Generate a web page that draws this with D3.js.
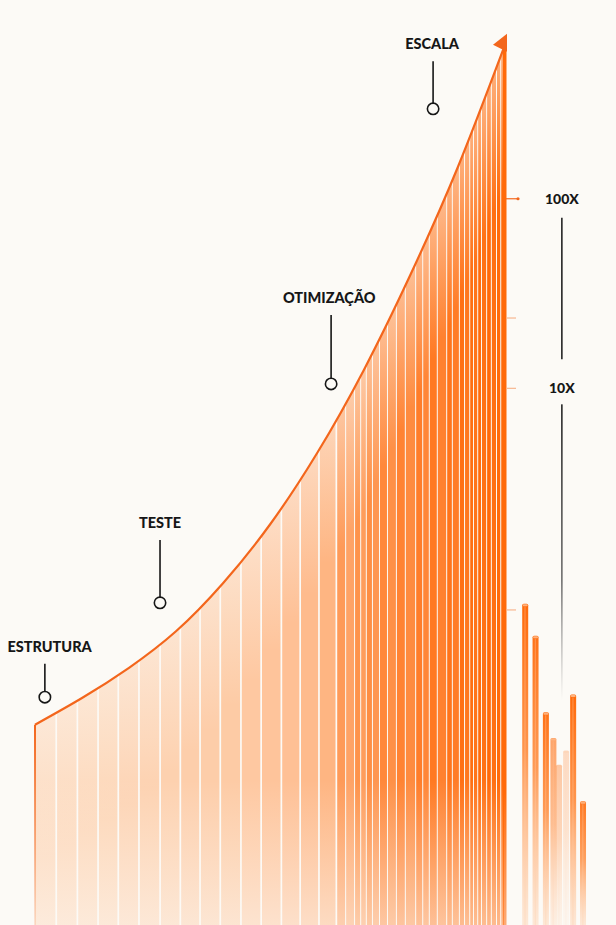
<!DOCTYPE html>
<html><head><meta charset="utf-8">
<script src="https://cdn.jsdelivr.net/npm/d3@7"></script>
<style>
html,body{margin:0;padding:0;background:#fcfaf6;}
svg{display:block;}
</style></head><body>
<svg id="c" width="616" height="925"></svg>
<script>
// ---- data ----
const curveX = [0, 10, 20, 30, 40, 50, 60, 70, 80, 90, 100];
const curveV = [22.5, 25.5, 28.9, 33.0, 38.4, 45.0, 53.0, 62.4, 73.2, 85.2, 98.9];
const stripeEdges = [0, 4.7, 9.2, 13.6, 17.9, 22.3, 26.8, 31.1, 35.3, 39.6, 44.0, 48.3, 52.6, 56.6, 60.6,
  64.3, 66.2, 68.1, 69.4, 70.6, 71.9, 73.4, 75.1, 77.0, 78.9, 81.1, 82.6, 84.0, 85.7, 87.7, 88.9,
  90.4, 91.5, 92.6, 93.4, 94.3, 95.1, 96.2, 97.2, 98.3, 99.2, 100];
const stripeTone = [0.13, 0.14, 0.15, 0.16, 0.17, 0.18, 0.19, 0.21, 0.22, 0.24, 0.26, 0.29, 0.32, 0.36, 0.41,
  0.62, 0.55, 0.68, 0.6, 0.72, 0.65, 0.76, 0.7, 0.8, 0.74, 0.85, 0.78, 0.88, 0.82, 0.92, 0.86,
  0.95, 0.9, 0.97, 0.92, 1.0, 0.94, 1.0, 0.96, 1.0, 1.0];
const stageNames = ["ESTRUTURA", "TESTE", "OTIMIZAÇÃO", "ESCALA"];
const stageX = [2.1, 26.6, 63.0, 84.7];
const stageLabelX = [3.1, 26.6, 62.6, 84.5];
const stageDotV = [25.6, 36.2, 60.8, 91.7];
const stageLabelV = [30.7, 44.6, 69.9, 98.4];
const axisTicks = [81.6, 68.2, 60.3, 35.4];
const axisLabels = ["100X", "", "10X", ""];
const labelColumnX = 112.1;
const miniBarX = [104.3, 106.5, 108.7, 110.3, 111.5, 113.0, 114.5, 116.6];
const miniBarV = [36.1, 32.5, 23.9, 21.0, 18.0, 19.6, 25.9, 13.9];
const miniBarTone = [1, 0.95, 0.95, 0.6, 0.35, 0.22, 1, 0.9];

// ---- setup ----
const BG = "#fcfaf6", ORANGE = "#ff6a0a", LINE = "#f3661c", INK = "#161616";
const FONT = "Lato, 'Noto Sans', sans-serif";
const svg = d3.select("#c");
const xs = d3.scaleLinear().domain([0, 100]).range([35, 505]);
const ys = d3.scaleLinear().domain([0, 100]).range([925, 35]);
const curveAt = d3.scaleLinear().domain(curveX).range(curveV);
const toneColor = d3.interpolateRgb("#fde9d6", ORANGE);
const pts = curveX.map((x, i) => [x, curveV[i]]);

svg.append("rect").attr("width", 616).attr("height", 925).attr("fill", BG);
const defs = svg.append("defs");

const area = d3.area().x(d => xs(d[0])).y0(ys(0)).y1(d => ys(d[1])).curve(d3.curveNatural);
defs.append("clipPath").attr("id", "clipArea").append("path").attr("d", area(pts));

const hl = defs.append("linearGradient").attr("id", "hl").attr("x1", 0).attr("x2", 0).attr("y1", 0).attr("y2", 1);
hl.append("stop").attr("offset", 0).attr("stop-color", BG).attr("stop-opacity", 0.5);
hl.append("stop").attr("offset", 1).attr("stop-color", BG).attr("stop-opacity", 0);

const fade = defs.append("linearGradient").attr("id", "fade").attr("gradientUnits", "userSpaceOnUse")
  .attr("x1", 0).attr("x2", 0).attr("y1", 780).attr("y2", 925);
fade.append("stop").attr("offset", 0).attr("stop-color", BG).attr("stop-opacity", 0);
fade.append("stop").attr("offset", 1).attr("stop-color", BG).attr("stop-opacity", 0.55);

const edgeFade = defs.append("linearGradient").attr("id", "edgeFade").attr("gradientUnits", "userSpaceOnUse")
  .attr("x1", 0).attr("x2", 0).attr("y1", ys(curveV[0])).attr("y2", 925);
edgeFade.append("stop").attr("offset", 0).attr("stop-color", LINE).attr("stop-opacity", 1);
edgeFade.append("stop").attr("offset", 1).attr("stop-color", LINE).attr("stop-opacity", 0.15);

const rightFade = defs.append("linearGradient").attr("id", "rightFade").attr("gradientUnits", "userSpaceOnUse")
  .attr("x1", 0).attr("x2", 0).attr("y1", 40).attr("y2", 925);
rightFade.append("stop").attr("offset", 0).attr("stop-color", ORANGE).attr("stop-opacity", 1);
rightFade.append("stop").attr("offset", 0.85).attr("stop-color", ORANGE).attr("stop-opacity", 1);
rightFade.append("stop").attr("offset", 1).attr("stop-color", ORANGE).attr("stop-opacity", 0.55);

// ---- stripes ----
const g = svg.append("g").attr("clip-path", "url(#clipArea)");
const stripes = stripeTone.map((t, i) => ({ a: stripeEdges[i], b: stripeEdges[i + 1], t }));
g.selectAll("rect.s").data(stripes).join("rect").attr("class", "s")
  .attr("x", d => xs(d.a))
  .attr("width", d => { const w = xs(d.b) - xs(d.a); return Math.max(0.5, w - (w > 12 ? 1.7 : 1.0)); })
  .attr("y", 30).attr("height", 900)
  .attr("fill", d => toneColor(d.t));
g.selectAll("rect.h").data(stripes).join("rect").attr("class", "h")
  .attr("x", d => xs(d.a)).attr("width", d => xs(d.b) - xs(d.a))
  .attr("y", d => ys(curveAt(d.b)) - 4).attr("height", 150)
  .attr("fill", "url(#hl)");
g.append("rect").attr("x", 30).attr("width", 480).attr("y", 700).attr("height", 230).attr("fill", "url(#fade)");

// edges
svg.append("line").attr("x1", xs(0)).attr("x2", xs(0)).attr("y1", ys(curveV[0])).attr("y2", 925)
  .attr("stroke", "url(#edgeFade)").attr("stroke-width", 2);
svg.append("rect").attr("x", xs(100) - 2).attr("width", 3.5).attr("y", ys(curveV[curveV.length - 1]))
  .attr("height", 925 - ys(curveV[curveV.length - 1])).attr("fill", "url(#rightFade)");

// curve line
const line = d3.line().x(d => xs(d[0])).y(d => ys(d[1])).curve(d3.curveNatural);
svg.append("path").attr("d", line(pts)).attr("fill", "none").attr("stroke", LINE).attr("stroke-width", 2.2);
// arrowhead
const ex = xs(100), ey = ys(curveV[curveV.length - 1]);
svg.append("path").attr("d", `M${ex - 12},${ey} L${ex + 2},${ey - 11} L${ex + 2},${ey + 7} Z`).attr("fill", LINE);

// ---- right axis ticks ----
svg.selectAll("line.tk").data(axisTicks).join("line").attr("class", "tk")
  .attr("x1", ex + 1).attr("x2", (d, i) => ex + (i === 0 ? 13 : 11))
  .attr("y1", d => ys(d)).attr("y2", d => ys(d))
  .attr("stroke", (d, i) => i === 0 ? LINE : "#f7b690").attr("stroke-width", 1.2);
svg.append("circle").attr("cx", ex + 13).attr("cy", ys(axisTicks[0])).attr("r", 1.6).attr("fill", LINE);

const lx = xs(labelColumnX);
const labTicks = axisTicks.map((v, i) => ({ v, l: axisLabels[i] })).filter(d => d.l);
svg.selectAll("text.ax").data(labTicks).join("text").attr("class", "ax")
  .attr("x", lx).attr("y", d => ys(d.v) + 5)
  .attr("text-anchor", "middle").attr("font-family", FONT)
  .attr("font-weight", 900).attr("font-size", 14).attr("fill", INK).text(d => d.l);
svg.append("line").attr("x1", lx).attr("x2", lx).attr("y1", ys(labTicks[0].v) + 19).attr("y2", ys(labTicks[1].v) - 29)
  .attr("stroke", INK).attr("stroke-width", 1.5);
const lf = defs.append("linearGradient").attr("id", "lf").attr("gradientUnits", "userSpaceOnUse")
  .attr("x1", 0).attr("x2", 0).attr("y1", 400).attr("y2", 700);
lf.append("stop").attr("offset", 0).attr("stop-color", INK).attr("stop-opacity", 1);
lf.append("stop").attr("offset", 0.6).attr("stop-color", "#555").attr("stop-opacity", 0.9);
lf.append("stop").attr("offset", 1).attr("stop-color", "#777").attr("stop-opacity", 0);
svg.append("rect").attr("x", lx - 0.75).attr("width", 1.5).attr("y", ys(labTicks[1].v) + 16)
  .attr("height", 700 - ys(labTicks[1].v) - 16).attr("fill", "url(#lf)");

// ---- mini bars ----
const mb = defs.append("linearGradient").attr("id", "mb").attr("x1", 0).attr("x2", 0).attr("y1", 0).attr("y2", 1);
mb.append("stop").attr("offset", 0).attr("stop-color", ORANGE).attr("stop-opacity", 1);
mb.append("stop").attr("offset", 0.45).attr("stop-color", "#ff8a3a").attr("stop-opacity", 0.9);
mb.append("stop").attr("offset", 1).attr("stop-color", "#ffc9a0").attr("stop-opacity", 0.35);
const minis = miniBarX.map((x, i) => ({ x, v: miniBarV[i], t: miniBarTone[i] }));
const mg = svg.append("g");
mg.selectAll("rect.m").data(minis).join("rect").attr("class", "m")
  .attr("x", d => xs(d.x) - 3).attr("width", 6)
  .attr("y", d => ys(d.v)).attr("height", d => 925 - ys(d.v) + 4)
  .attr("rx", 1.5).attr("fill", "url(#mb)").attr("opacity", d => d.t);
mg.selectAll("rect.mh").data(minis).join("rect").attr("class", "mh")
  .attr("x", d => xs(d.x) - 0.8).attr("width", 1.2)
  .attr("y", d => ys(d.v) + 3).attr("height", d => 925 - ys(d.v))
  .attr("fill", "#ffd2ae").attr("opacity", d => d.t * 0.35);
mg.selectAll("rect.mc").data(minis).join("rect").attr("class", "mc")
  .attr("x", d => xs(d.x) - 2.5).attr("width", 5)
  .attr("y", d => ys(d.v) + 0.5).attr("height", 2)
  .attr("rx", 1).attr("fill", "#ffc49a").attr("opacity", d => d.t * 0.8);

// ---- stage annotations ----
const stages = stageNames.map((n, i) => ({ n, x: stageX[i], tx: stageLabelX[i], dv: stageDotV[i], lv: stageLabelV[i] }));
const sg = svg.append("g");
sg.selectAll("text.st").data(stages).join("text").attr("class", "st")
  .attr("x", d => xs(d.tx)).attr("y", d => ys(d.lv))
  .attr("text-anchor", "middle").attr("font-family", FONT)
  .attr("font-weight", 900).attr("font-size", 14.5)
  .attr("fill", INK).text(d => d.n);
sg.selectAll("line.ld").data(stages).join("line").attr("class", "ld")
  .attr("x1", d => xs(d.x)).attr("x2", d => xs(d.x))
  .attr("y1", d => ys(d.lv) + 12).attr("y2", d => ys(d.dv) - 5.7)
  .attr("stroke", INK).attr("stroke-width", 1.6);
sg.selectAll("circle.dt").data(stages).join("circle").attr("class", "dt")
  .attr("cx", d => xs(d.x)).attr("cy", d => ys(d.dv)).attr("r", 5.7)
  .attr("fill", BG).attr("stroke", INK).attr("stroke-width", 1.6);
</script>
</body></html>
